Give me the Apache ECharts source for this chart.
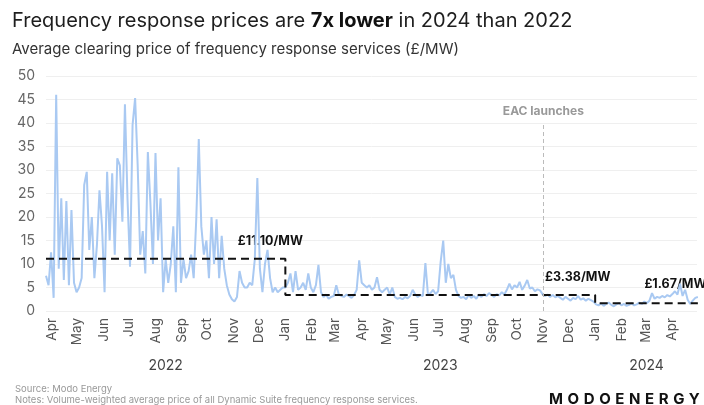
<!DOCTYPE html>
<html><head><meta charset="utf-8">
<script src="https://cdn.jsdelivr.net/npm/echarts@6/dist/echarts.min.js"></script>
<style>
html,body{margin:0;padding:0;background:#fff}
#wrap{position:relative;width:704px;height:405px}
#c{width:704px;height:405px}
#logo{position:absolute;left:549px;top:390px;font:700 15px Inter, "DejaVu Sans", sans-serif;letter-spacing:4.6px;color:#111;line-height:18px;white-space:nowrap}
</style>
</head><body>
<div id="wrap"><div id="c"></div><div id="logo">MODOENERGY</div></div>
<script>
// ---- data (one value every 3 days from startDate) ----
const startDate = [2022, 2, 25]; // 25 Mar 2022
const stepDays = 3;
const prices2022 = [
  7.5, 5.5, 12.5, 2.8, 46, 9, 24, 6.6, 23.4, 5.5,
  21.5, 6, 4, 5, 7, 26.8, 29.6, 13, 20, 7,
  14, 25.7, 18, 4, 29.6, 15, 29.3, 12, 32.5, 31,
  19, 44, 24, 9.4, 39.6, 45.3, 31, 12, 17, 8,
  33.8, 23, 10, 33.6, 15, 24, 4, 11, 6, 10,
  18, 4, 30.6, 6, 11, 7, 8.5, 12, 7, 19.4,
  36.6, 18, 12, 15, 7, 20, 10, 19.5, 7, 16,
  9, 5.5, 3.5, 2.5, 2, 3, 8.5, 6, 5, 5,
  6, 5.5, 11, 28.3, 9, 4, 10, 13, 7, 4,
  5, 4, 4.5, 5
];
const prices2023 = [
  5, 6, 8, 4, 8.5, 4.5, 5, 6, 4.5, 8,
  5, 4, 5.5, 9.8, 4, 3, 3.5, 2.6, 3, 3.2,
  5.5, 3.5, 3.2, 3, 3.5, 3.2, 2.8, 3.4, 4.5, 10.8,
  6, 5.5, 5, 5.5, 4.5, 5, 7.2, 4.5, 4, 4.5,
  5, 3.5, 5, 3, 2.6, 2.8, 2.5, 3, 2.7, 3.2,
  4.5, 3.5, 3, 3.4, 3.2, 10.2, 3.5, 3.8, 4.5, 3.6,
  4.2, 10.5, 15, 6, 10, 7, 7.7, 4.5, 3.2, 2.8,
  3, 2.5, 3.4, 2.8, 3.2, 2.6, 3.5, 3, 3.6, 3.2,
  3.8, 3.4, 3, 3.6, 3.3, 4, 3.5, 4.5, 5.8, 4.6,
  5.5, 5, 6.2, 4.5, 5.4, 6.6, 4.8, 5, 4.2, 4.6,
  4.4, 3.6, 3.2, 3.5, 3, 3.4, 2.9, 3.2, 2.8, 2.4,
  3, 2.6, 2.2, 2.8, 2.5, 3.2, 2.4, 2.7, 2.2, 2.6,
  2.3, 2
];
const prices2024 = [
  1.4, 1.2, 1.6, 1.1, 1.5, 1.8, 1.3, 1, 1.4, 1.7,
  1.2, 1.5, 1.1, 1.3, 1.6, 1.2, 1.4, 1.8, 1.5, 2,
  1.7, 2.2, 3.8, 2.6, 3, 2.8, 3.2, 2.9, 3.4, 3.1,
  3.6, 4.2, 3.5, 5.8, 3.2, 4.5, 2.4, 1.5, 2.2, 2.8,
  3
];
const axisStart = '2022-03-25';
const axisEnd = '2024-04-30';
const avgBreaks = ['2022-03-25', '2023-01-01', '2024-01-01', '2024-05-01'];
const avgValues = [11.10, 3.38, 1.67, 1.67];
const avgLabels = ['£11.10/MW', '£3.38/MW', '£1.67/MW'];
const avgLabelAnchors = [['2022-11-06', 14.6], ['2023-11-03', 6.8], ['2024-02-28', 5.3]];
const yearLabels = ['2022', '2023', '2024'];
const yearSpans = [['2022-03-25', '2023-01-01'], ['2023-01-01', '2024-01-01'], ['2024-01-01', '2024-05-01']];
const eacDate = '2023-11-01';
const eacTop = 40;
const monthNames = ['Jan','Feb','Mar','Apr','May','Jun','Jul','Aug','Sep','Oct','Nov','Dec'];
const yTicks = [0, 50, 5];

const FF = 'Inter, "DejaVu Sans", sans-serif';
const prices = prices2022.concat(prices2023, prices2024);
const pad = n => (n < 10 ? '0' : '') + n;
const fmt = d => d.getFullYear() + '-' + pad(d.getMonth() + 1) + '-' + pad(d.getDate());
const seriesData = prices.map((v, i) => {
  const d = new Date(startDate[0], startDate[1], startDate[2] + i * stepDays);
  return [fmt(d), v];
});
const avgData = avgBreaks.map((d, i) => [d, avgValues[i]]);

const chart = echarts.init(document.getElementById('c'), null, {renderer: 'canvas'});
const DAY = 86400000;
chart.setOption({
  animation: false,
  backgroundColor: '#fff',
  title: [
    {left: 7, top: 6, text: '{a|Frequency response prices are }{b|7x lower}{a| in 2024 than 2022}',
     textStyle: {fontWeight: 'normal', rich: {a: {fontSize: 20, fontWeight: 'normal', color: '#1e1e1e', fontFamily: FF}, b: {fontSize: 20, fontWeight: 'bold', color: '#111', fontFamily: FF}}}},
    {left: 7, top: 37, text: 'Average clearing price of frequency response services (£/MW)',
     textStyle: {fontSize: 15, color: '#333', fontWeight: 'normal', fontFamily: FF}},
    {left: 10, top: 379, text: 'Source: Modo Energy', textStyle: {fontSize: 9.5, color: '#999', fontWeight: 'normal', fontFamily: FF}},
    {left: 10, top: 390, text: 'Notes: Volume-weighted average price of all Dynamic Suite frequency response services.',
     textStyle: {fontSize: 9.5, color: '#999', fontWeight: 'normal', fontFamily: FF}}
  ],
  grid: {left: 46, right: 7, top: 76, bottom: 94, containLabel: false},
  xAxis: {
    type: 'time', min: axisStart, max: axisEnd,
    minInterval: 28 * DAY, maxInterval: 31 * DAY, splitNumber: 26,
    axisLine: {show: false}, axisTick: {show: false}, splitLine: {show: false},
    axisLabel: {rotate: 90, margin: 7, color: '#555', fontSize: 13.5, fontFamily: FF, hideOverlap: false,
      formatter: v => monthNames[new Date(v).getMonth()]}
  },
  yAxis: {
    type: 'value', min: yTicks[0], max: yTicks[1], interval: yTicks[2],
    axisLine: {show: false}, axisTick: {show: false},
    splitLine: {lineStyle: {color: '#efefef', width: 1}},
    axisLabel: {color: '#666', fontSize: 14, margin: 11, fontFamily: FF}
  },
  series: [
    {type: 'line', data: seriesData, showSymbol: false, symbol: 'none', clip: false,
     lineStyle: {color: '#a9c9f2', width: 2}, z: 2,
     markLine: {silent: true, symbol: 'none',
       lineStyle: {color: '#bbbbbb', type: [4, 3], width: 1},
       label: {show: true, position: 'end', formatter: 'EAC launches', color: '#999', fontSize: 12, fontWeight: 'bold', fontFamily: FF, distance: 6},
       data: [[{coord: [eacDate, 0]}, {coord: [eacDate, eacTop]}]]}},
    {type: 'line', data: avgData, step: 'end', showSymbol: false, symbol: 'none', clip: false,
     lineStyle: {color: '#111', width: 2, type: [8, 5]}, z: 3}
  ]
});

function px(d, v) { return chart.convertToPixel({xAxisIndex: 0, yAxisIndex: 0}, [d, v]); }
const g = [];
avgLabels.forEach((t, i) => {
  const p = px(avgLabelAnchors[i][0], avgLabelAnchors[i][1]);
  g.push({type: 'text', left: p[0], top: p[1] - 8,
    style: {text: t, fill: '#111', font: 'bold 12.5px ' + FF}});
});
yearLabels.forEach((t, i) => {
  const a = px(yearSpans[i][0], 0), b = px(yearSpans[i][1], 0);
  g.push({type: 'text', x: (a[0] + b[0]) / 2, y: 366,
    style: {text: t, fill: '#444', font: '14px ' + FF, align: 'center', verticalAlign: 'middle'}});
});
chart.setOption({graphic: g});
</script>
</body></html>
